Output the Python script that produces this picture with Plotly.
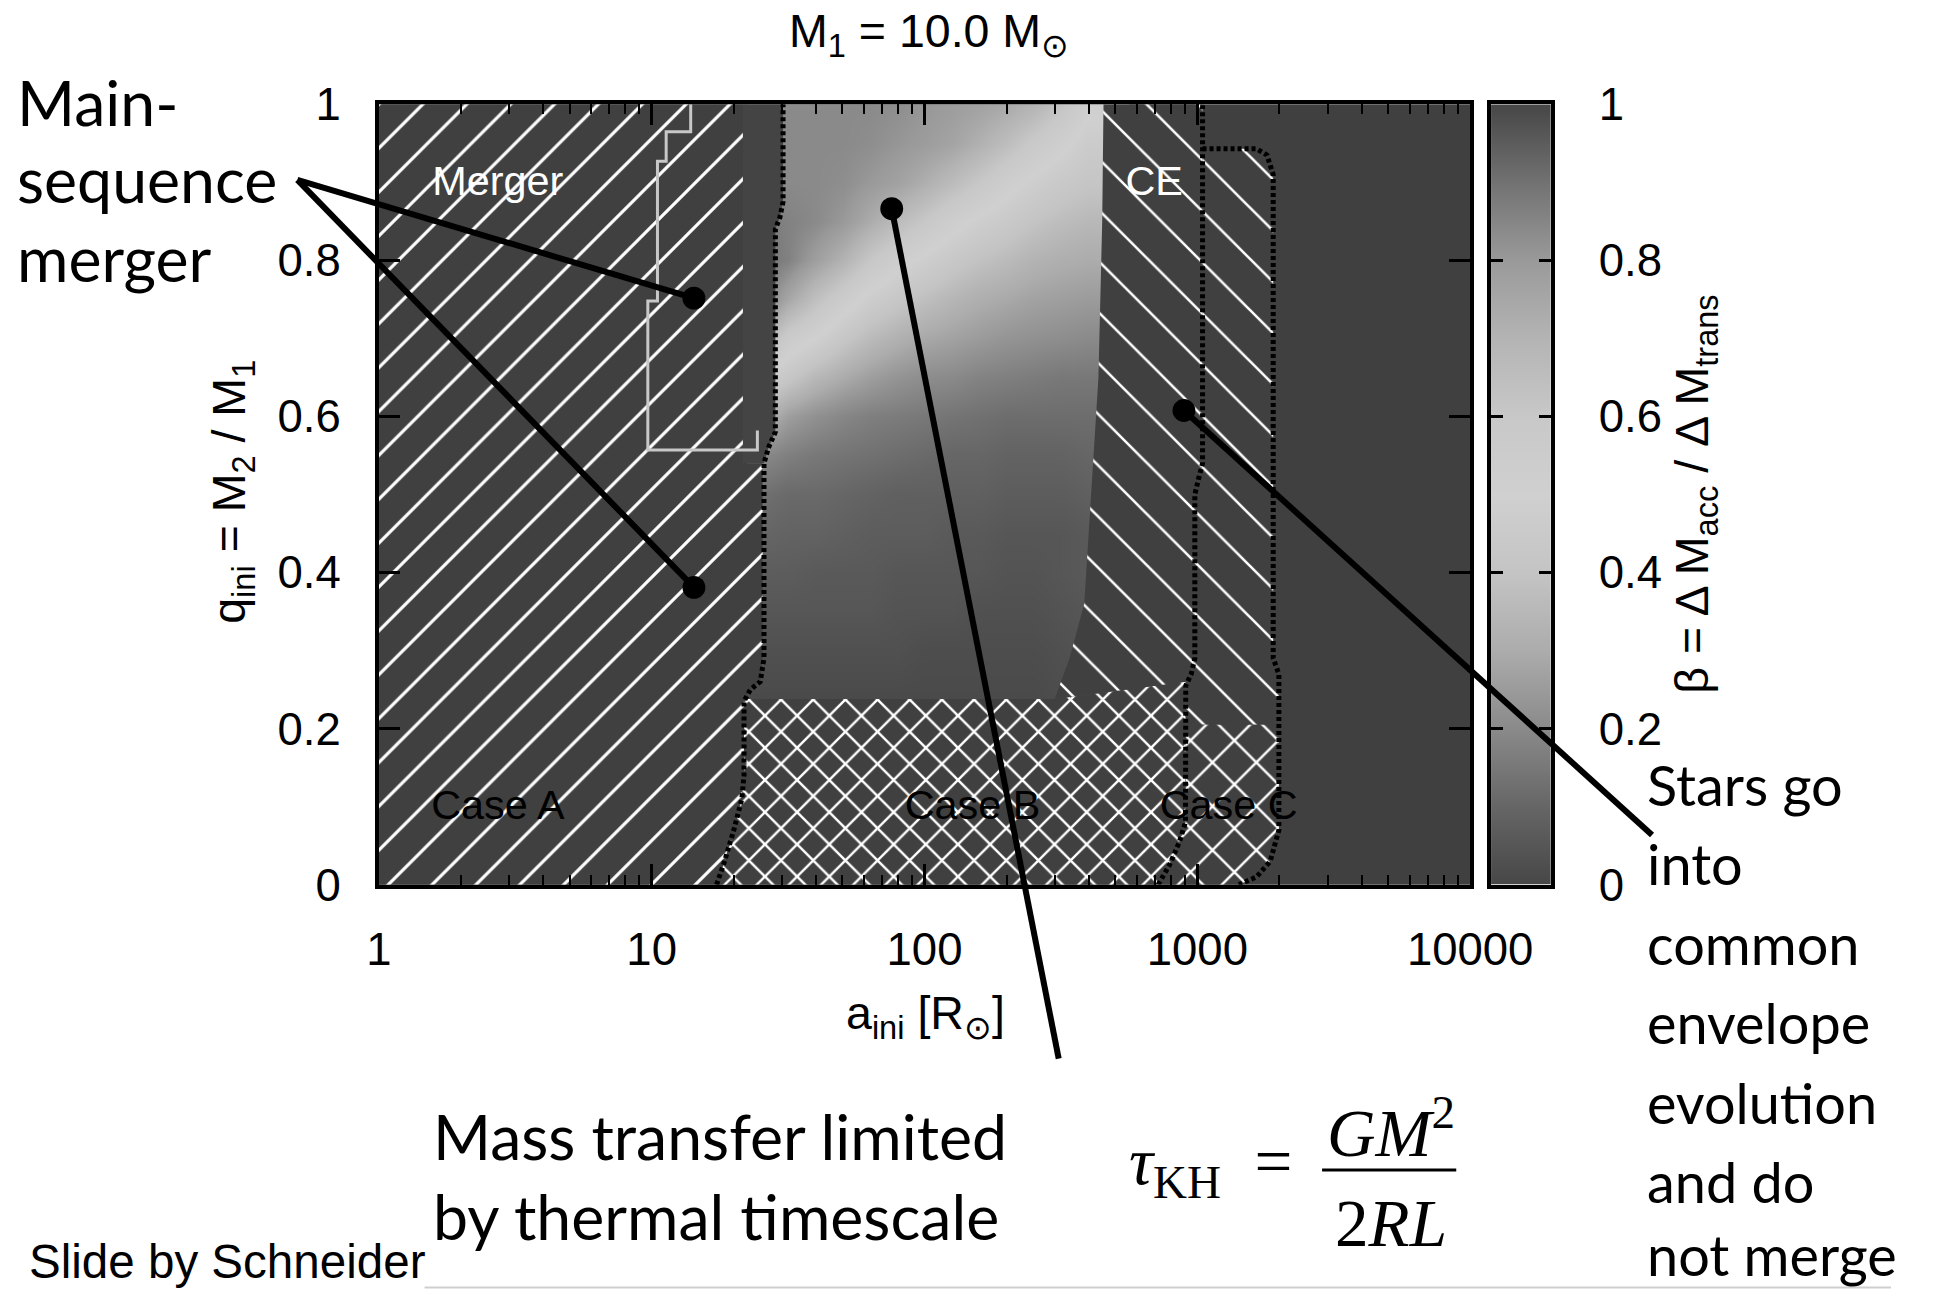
import plotly.graph_objects as go

# ---------------------------------------------------------------- data
X_TICKS = [1, 10, 100, 1000, 10000]
X_TICK_TEXT = ["1", "10", "100", "1000", "10000"]
X_MINOR = [2, 3, 4, 5, 6, 7, 8, 9,
           20, 30, 40, 50, 60, 70, 80, 90,
           200, 300, 400, 500, 600, 700, 800, 900,
           2000, 3000, 4000, 5000, 6000, 7000, 8000, 9000]
Y_TICKS = [0, 0.2, 0.4, 0.6, 0.8, 1.0]
Y_TICK_TEXT = ["0", "0.2", "0.4", "0.6", "0.8", "1"]

# accretion efficiency beta in the stable case-B region
A_GRID = [25.1, 31.6, 39.8, 50.1, 63.1, 79.4, 100, 126, 158, 200, 251, 316, 398, 501]
Q_GRID = [0.24, 0.30, 0.35, 0.40, 0.45, 0.50, 0.55, 0.60, 0.65, 0.70, 0.75, 0.80,
          0.85, 0.90, 0.95, 1.00]
BETA = [
    [.01, .01, .01, .01, .01, .01, .01, .01, .01, .01, .01, .02, .03, .03],
    [.03, .03, .03, .03, .03, .03, .02, .02, .02, .02, .02, .03, .04, .04],
    [.05, .05, .05, .05, .05, .04, .04, .04, .03, .03, .03, .04, .05, .05],
    [.07, .07, .06, .06, .06, .05, .05, .05, .05, .04, .04, .05, .06, .06],
    [.10, .09, .09, .08, .07, .07, .07, .06, .06, .05, .05, .05, .06, .06],
    [.13, .11, .11, .10, .09, .08, .08, .08, .08, .07, .07, .07, .08, .08],
    [.20, .17, .15, .14, .13, .12, .11, .10, .10, .09, .09, .09, .10, .10],
    [.34, .26, .22, .19, .17, .16, .15, .14, .13, .12, .12, .12, .12, .12],
    [.50, .42, .35, .30, .26, .23, .21, .20, .18, .17, .16, .15, .15, .15],
    [.70, .56, .50, .42, .36, .32, .29, .27, .25, .23, .22, .21, .20, .20],
    [.88, .75, .64, .55, .47, .42, .38, .34, .31, .29, .27, .26, .25, .25],
    [.90, .86, .78, .70, .60, .53, .48, .43, .39, .36, .33, .31, .30, .30],
    [.88, .86, .84, .80, .73, .66, .60, .53, .48, .44, .40, .37, .35, .35],
    [.85, .84, .84, .83, .80, .77, .72, .66, .60, .53, .48, .44, .41, .41],
    [.84, .84, .84, .84, .83, .81, .79, .76, .71, .65, .58, .52, .46, .46],
    [.84, .84, .84, .84, .84, .83, .81, .79, .77, .74, .70, .62, .52, .52],
]
CB_LEVELS = [0.0, 0.1, 0.2, 0.3, 0.4, 0.5, 0.6, 0.7, 0.8, 0.9, 1.0]

# regions (a_ini [Rsun], q_ini)
CASE_A_REGION = [(1, 0), (17.3, 0), (18.5, 0.03), (20.0, 0.07), (21.4, 0.11), (21.8, 0.14),
                 (21.8, 0.235), (23.0, 0.25), (25.0, 0.26), (25.5, 0.29), (25.5, 0.54),
                 (21.6, 0.54), (21.6, 1.0), (1, 1.0)]
GAP_REGION = [(21.6, 0.54), (25.8, 0.54), (26.8, 0.56), (28.4, 0.58), (28.4, 0.84),
              (29.5, 0.855), (30.3, 0.875), (30.3, 1.0), (21.6, 1.0)]
CROSS_B_REGION = [(17.3, 0), (18.5, 0.03), (20.0, 0.07), (21.4, 0.11), (21.8, 0.14),
                  (21.8, 0.238), (300, 0.238), (907, 0.26), (905, 0.08), (860, 0.055),
                  (790, 0.025), (718, 0)]
CE_REGION = [(453, 1.0), (448, 0.85), (434, 0.65), (400, 0.45), (385, 0.36), (340, 0.29),
             (300, 0.238), (907, 0.26), (950, 0.27), (979, 0.29), (979, 0.5), (1010, 0.52),
             (1045, 0.54), (1045, 1.0)]
CASE_C_UPPER = [(1045, 0.943), (1650, 0.943), (1800, 0.935), (1897, 0.91), (1897, 0.29),
                (1990, 0.27), (1990, 0.205), (907, 0.205), (907, 0.26), (950, 0.27),
                (979, 0.29), (979, 0.5), (1010, 0.52), (1045, 0.54)]
CASE_C_LOWER = [(907, 0.205), (1990, 0.205), (1990, 0.07), (1850, 0.03), (1650, 0.01),
                (1420, 0), (718, 0), (790, 0.025), (860, 0.055), (905, 0.08)]

BOUNDARY_AB = [(17.3, 0), (18.5, 0.03), (20.0, 0.07), (21.4, 0.11), (21.8, 0.14),
               (21.8, 0.235), (23.0, 0.25), (25.0, 0.26), (25.8, 0.29), (25.8, 0.54),
               (26.8, 0.56), (28.4, 0.58), (28.4, 0.84), (29.5, 0.855), (30.3, 0.875),
               (30.3, 1.0)]
BOUNDARY_BC = [(718, 0), (790, 0.025), (860, 0.055), (905, 0.08), (907, 0.255), (950, 0.27),
               (979, 0.29), (979, 0.5), (1010, 0.52), (1045, 0.54), (1045, 1.0)]
BOUNDARY_C = [(1045, 0.943), (1650, 0.943), (1800, 0.935), (1897, 0.91), (1897, 0.29),
              (1990, 0.27), (1990, 0.07), (1850, 0.03), (1650, 0.01), (1420, 0)]
MERGER_BOX = [(13.9, 1.0), (13.9, 0.965), (11.3, 0.965), (11.3, 0.927), (10.5, 0.927),
              (10.5, 0.748), (9.68, 0.748), (9.68, 0.557), (24.4, 0.557), (24.4, 0.582)]

REGION_LABELS = [("Merger", 2.73, 0.897, "white"), ("CE", 695, 0.897, "white"),
                 ("Case A", 2.73, 0.098, "black"), ("Case B", 150, 0.098, "black"),
                 ("Case C", 1303, 0.098, "black")]

# slide call-outs (picture pixels): dot end first
POINTERS = [((693, 297), (294, 178)), ((693, 588), (294, 178)),
            ((892, 207), (1060, 1062)), ((1186, 410), (1657, 837))]

# ---------------------------------------------------------------- layout constants
W, H = 1954, 1316
# the page is photographed slightly shrunk and shifted; positions below are given in
# picture pixels and mapped back to page pixels
SCALE, OFF_X, OFF_Y = 0.967, 7.9, 22.2
PX_L, PX_R, PX_T, PX_B = 376, 1474, 102, 887
CB_L, CB_R = 1495, 1555
BG = "#404040"
SANS = "Liberation Sans, Arial, sans-serif"
SLIDE = "Lato, Carlito, Calibri, sans-serif"
SERIF = "Liberation Serif, DejaVu Serif, serif"

GRAY_SCALE = [[0.0, "#474747"], [0.1, "#666666"], [0.2, "#8a8a8a"], [0.3, "#acacac"],
              [0.4, "#c4c4c4"], [0.5, "#d0d0d0"], [0.6, "#c8c8c8"], [0.7, "#b4b4b4"],
              [0.8, "#9a9a9a"], [0.9, "#727272"], [1.0, "#474747"]]


def fx(px):
    return (px - OFF_X) / SCALE / W


def fy(py):
    return 1 - (py - OFF_Y) / SCALE / H


def fs(v):
    return v / SCALE


fig = go.Figure()

fig.add_trace(go.Heatmap(x=A_GRID, y=Q_GRID, z=BETA, colorscale=GRAY_SCALE, zmin=0, zmax=1,
                         zsmooth="best", showscale=False, hoverinfo="skip"))


def region(pts, shape="", size=28, solidity=0.1, bg=BG):
    xs = [p[0] for p in pts] + [pts[0][0]]
    ys = [p[1] for p in pts] + [pts[0][1]]
    kw = {}
    if shape:
        kw["fillpattern"] = dict(shape=shape, size=fs(size), solidity=solidity,
                                 fgcolor="white", bgcolor=bg, fillmode="replace")
    return go.Scatter(x=xs, y=ys, mode="lines", fill="toself", fillcolor=bg,
                      line=dict(width=0, color=bg), hoverinfo="skip", showlegend=False, **kw)


fig.add_trace(region(GAP_REGION, bg="#444444"))
fig.add_trace(region(CASE_A_REGION, "/", 30, 0.1))
fig.add_trace(region(CROSS_B_REGION, "x", 22, 0.2))
fig.add_trace(region(CE_REGION, "\\", 35, 0.07))
fig.add_trace(region(CASE_C_UPPER, "\\", 35, 0.07))
fig.add_trace(region(CASE_C_LOWER, "x", 30, 0.15))

fig.add_trace(go.Scatter(x=[p[0] for p in MERGER_BOX], y=[p[1] for p in MERGER_BOX],
                         mode="lines", line=dict(color="#c8c8c8", width=3),
                         hoverinfo="skip", showlegend=False))
for bnd in (BOUNDARY_AB, BOUNDARY_BC, BOUNDARY_C):
    fig.add_trace(go.Scatter(x=[p[0] for p in bnd], y=[p[1] for p in bnd], mode="lines",
                             line=dict(color="black", width=5, dash="4px,3px"),
                             hoverinfo="skip", showlegend=False))

for txt, a, q, col in REGION_LABELS:
    fig.add_trace(go.Scatter(x=[a], y=[q], mode="text", text=[txt],
                             textfont=dict(family=SANS, size=fs(40), color=col),
                             hoverinfo="skip", showlegend=False))

# colour bar as its own little subplot
fig.add_trace(go.Heatmap(x=[0.5], y=CB_LEVELS, z=[[v] for v in CB_LEVELS],
                         colorscale=GRAY_SCALE, zmin=0, zmax=1, zsmooth="best",
                         showscale=False, hoverinfo="skip", xaxis="x2", yaxis="y2"))

axis_font = dict(family=SANS, size=fs(44), color="black")
fig.update_layout(
    width=W, height=H, margin=dict(l=0, r=0, t=0, b=0), autosize=False,
    paper_bgcolor="white", plot_bgcolor="rgba(0,0,0,0)", showlegend=False,
    xaxis=dict(domain=[fx(PX_L), fx(PX_R)], type="log", range=[0, 4], anchor="y",
               tickmode="array", tickvals=X_TICKS, ticktext=X_TICK_TEXT,
               ticks="inside", ticklen=21, tickwidth=3, tickcolor="black",
               minor=dict(tickmode="array", tickvals=X_MINOR, ticks="inside", ticklen=10,
                          tickwidth=2, tickcolor="black", showgrid=False),
               showline=True, linewidth=4, linecolor="black", mirror="ticks",
               showgrid=False, zeroline=False, tickfont=axis_font, ticklabelstandoff=22,
               fixedrange=True),
    yaxis=dict(domain=[fy(PX_B), fy(PX_T)], range=[0, 1], anchor="x",
               tickmode="array", tickvals=Y_TICKS, ticktext=Y_TICK_TEXT,
               ticks="inside", ticklen=21, tickwidth=3, tickcolor="black",
               showline=True, linewidth=4, linecolor="black", mirror="ticks",
               showgrid=False, zeroline=False, tickfont=axis_font, ticklabelstandoff=25,
               fixedrange=True),
    xaxis2=dict(domain=[fx(CB_L), fx(CB_R)], range=[0, 1], anchor="y2",
                showticklabels=False, ticks="", showline=True, linewidth=4,
                linecolor="black", mirror=True, showgrid=False, zeroline=False,
                fixedrange=True),
    yaxis2=dict(domain=[fy(PX_B), fy(PX_T)], range=[0, 1], anchor="x2", side="right",
                tickmode="array", tickvals=Y_TICKS, ticktext=Y_TICK_TEXT,
                ticks="inside", ticklen=12, tickwidth=3, tickcolor="black",
                showline=True, linewidth=4, linecolor="black", mirror="ticks",
                showgrid=False, zeroline=False, tickfont=axis_font, ticklabelstandoff=35,
                fixedrange=True),
)

fig.add_shape(type="rect", xref="x domain", yref="y domain", x0=0, x1=1, y0=0, y1=1,
              fillcolor=BG, line=dict(width=0), layer="below")

# slide overlay: pointer lines and dots
R_DOT = 11.5
for (dot, end) in POINTERS:
    fig.add_shape(type="line", xref="paper", yref="paper", x0=fx(dot[0]), y0=fy(dot[1]),
                  x1=fx(end[0]), y1=fy(end[1]), line=dict(color="black", width=6),
                  layer="above")
    fig.add_shape(type="circle", xref="paper", yref="paper",
                  x0=fx(dot[0] - R_DOT), x1=fx(dot[0] + R_DOT),
                  y0=fy(dot[1] + R_DOT), y1=fy(dot[1] - R_DOT),
                  fillcolor="black", line=dict(width=0), layer="above")
# fraction bar of the formula and slide footer line
fig.add_shape(type="line", xref="paper", yref="paper", x0=fx(1325), x1=fx(1460),
              y0=fy(1174), y1=fy(1174), line=dict(color="black", width=3))
fig.add_shape(type="line", xref="paper", yref="paper", x0=fx(422), x1=1,
              y0=0.002, y1=0.002, line=dict(color="#cfcfcf", width=2))


def note(text, px, py, size, family=SANS, xanchor="center", yanchor="middle", angle=0,
         yp=None):
    fig.add_annotation(text=text, x=fx(px), y=fy(py) if yp is None else yp,
                       xref="paper", yref="paper", xanchor=xanchor, yanchor=yanchor,
                       showarrow=False, textangle=angle,
                       font=dict(family=family, size=fs(size), color="black"))


note("M<sub>1</sub> = 10.0 M<sub>⊙</sub>", 930, 32, 45)
note("a<sub>ini</sub> [R<sub>⊙</sub>]", 926, 1020, 45)
note("q<sub>ini</sub> = M<sub>2</sub> / M<sub>1</sub>", 228, 492, 45, angle=-90)
note("β = Δ M<sub>acc</sub> / Δ M<sub>trans</sub>", 1701, 494, 45, angle=-90)

for txt, py in zip(["Main-", "sequence", "merger"], [99, 177, 256]):
    note(txt, 10, py, 60.5, SLIDE, xanchor="left")
for txt, py in zip(["Mass transfer limited", "by thermal timescale"], [1139, 1220]):
    note(txt, 428, py, 60.5, SLIDE, xanchor="left")
for txt, py in zip(["Stars go", "into", "common", "envelope", "evolution", "and do"],
                   [786, 866, 946, 1026, 1106, 1186]):
    note(txt, 1650, py, 54, SLIDE, xanchor="left")
note("not merge", 1650, 0, 54, SLIDE, xanchor="left", yanchor="bottom", yp=0.0)

note("<i>τ</i><sub>KH</sub> &nbsp;=", 1298, 1170, 65, SERIF, xanchor="right")
note("<i>GM</i><sup>2</sup>", 1394, 1132, 65, SERIF)
note("2<i>RL</i>", 1394, 1228, 65, SERIF)
note("Slide by Schneider", 22, 0, 46, SANS, xanchor="left", yanchor="bottom", yp=0.0)

fig.write_html("out.html", config={"staticPlot": True, "displayModeBar": False})
